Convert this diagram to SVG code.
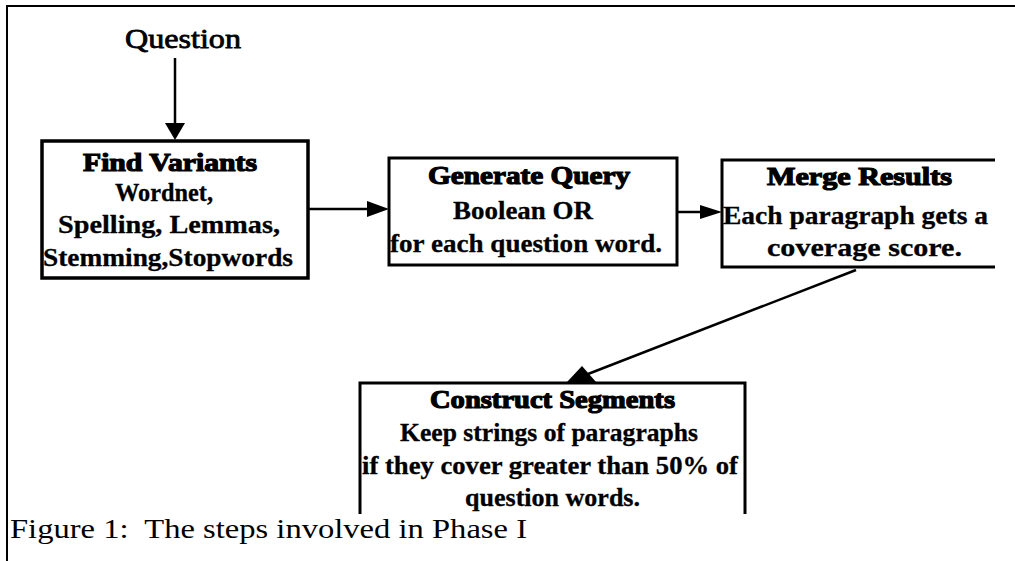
<svg xmlns="http://www.w3.org/2000/svg" width="1015" height="561" viewBox="0 0 1015 561">
<style>
.box{fill:none;stroke:#000;stroke-width:3}
.ln{fill:none;stroke:#000;stroke-width:2.5}
.hd{fill:#000;stroke:none}
.t{font-family:"Liberation Serif","Times New Roman",serif;font-size:26px;font-weight:bold;fill:#000;stroke:#000;stroke-width:0.3}
.b{stroke-width:1.2}
.cap{font-family:"Liberation Serif","Times New Roman",serif;font-size:28px;fill:#000}
</style>
<rect width="1015" height="561" fill="#fff"/>
<g id="frame">
<path d="M7 561 V6 H1015" fill="none" stroke="#000" stroke-width="2"/>
</g>
<g id="connectors">
<line class="ln" x1="175" y1="58" x2="175" y2="126"/>
<polygon class="hd" points="165,123 185,123 175,140"/>
<line class="ln" x1="308" y1="209" x2="370" y2="209"/>
<polygon class="hd" points="367,201 389,209 367,217"/>
<line class="ln" x1="677" y1="212" x2="702" y2="212"/>
<polygon class="hd" points="700,205 722,212 700,219"/>
<line class="ln" x1="856" y1="270" x2="588" y2="374"/>
<polygon class="hd" points="582,366 567,382 596,382"/>
</g>
<g id="question">
<text class="t" x="125" y="48" textLength="116" lengthAdjust="spacingAndGlyphs" style="font-size:28px;font-weight:normal;stroke-width:0.8">Question</text>
</g>
<g id="find-variants">
<rect class="box" x="42" y="141" width="266" height="137" style="stroke-width:3.5"/>
<text class="t b" x="83" y="171" textLength="174" lengthAdjust="spacingAndGlyphs">Find Variants</text>
<text class="t" x="115" y="201" textLength="98" lengthAdjust="spacingAndGlyphs">Wordnet,</text>
<text class="t" x="58" y="233" textLength="222" lengthAdjust="spacingAndGlyphs">Spelling, Lemmas,</text>
<text class="t" x="43" y="266" textLength="250" lengthAdjust="spacingAndGlyphs">Stemming,Stopwords</text>
</g>
<g id="generate-query">
<rect class="box" x="389" y="158" width="288" height="107"/>
<text class="t b" x="428" y="184" textLength="202" lengthAdjust="spacingAndGlyphs">Generate Query</text>
<text class="t" x="453" y="219" textLength="140" lengthAdjust="spacingAndGlyphs">Boolean OR</text>
<text class="t" x="390" y="252" textLength="272" lengthAdjust="spacingAndGlyphs">for each question word.</text>
</g>
<g id="merge-results">
<path class="box" d="M995 160 H722 V267 H995"/>
<text class="t b" x="767" y="185" textLength="185" lengthAdjust="spacingAndGlyphs">Merge Results</text>
<text class="t" x="723" y="224" textLength="265" lengthAdjust="spacingAndGlyphs">Each paragraph gets a</text>
<text class="t" x="767" y="256" textLength="195" lengthAdjust="spacingAndGlyphs">coverage score.</text>
</g>
<g id="construct-segments">
<path class="box" d="M360 514 V383 H745 V514"/>
<text class="t b" x="430" y="408" textLength="245" lengthAdjust="spacingAndGlyphs">Construct Segments</text>
<text class="t" x="400" y="441" textLength="298" lengthAdjust="spacingAndGlyphs">Keep strings of paragraphs</text>
<text class="t" x="362" y="474" textLength="376" lengthAdjust="spacingAndGlyphs">if they cover greater than 50%  of</text>
<text class="t" x="465" y="506" textLength="175" lengthAdjust="spacingAndGlyphs">question words.</text>
</g>
<g id="caption">
<text class="cap" x="10" y="538" textLength="517" lengthAdjust="spacingAndGlyphs" xml:space="preserve">Figure 1:  The steps involved in Phase I</text>
</g>
</svg>
